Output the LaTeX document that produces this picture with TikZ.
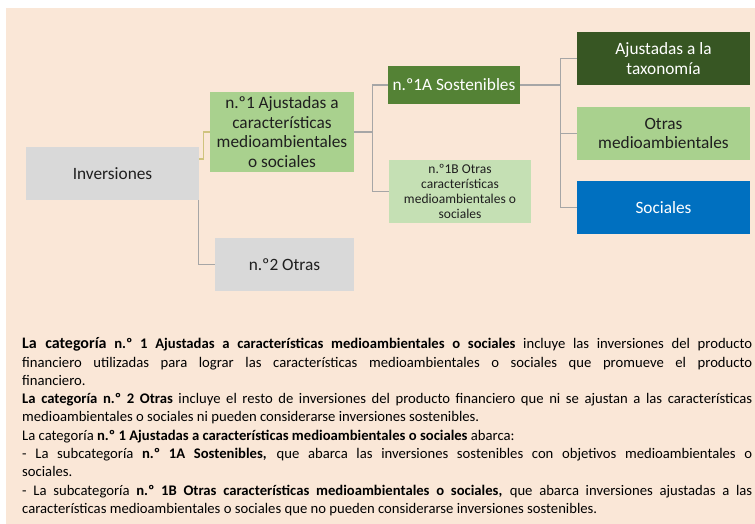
\documentclass[tikz,border=0pt]{standalone}
\usepackage{fontspec}
\setmainfont{Carlito}
\usetikzlibrary{calc}
\definecolor{bgpeach}{HTML}{FAE7D7}
\definecolor{boxgray}{HTML}{D9D9D9}
\definecolor{lgreen}{HTML}{A9D18E}
\definecolor{mgreen}{HTML}{548235}
\definecolor{pgreen}{HTML}{C5E0B4}
\definecolor{dgreen}{HTML}{375623}
\definecolor{sblue}{HTML}{0070C0}
\definecolor{linegray}{HTML}{A6A6A6}
\definecolor{lineyel}{HTML}{CFC37E}
\begin{document}
\begin{tikzpicture}[x=1pt,y=-1pt,
  box/.style={inner sep=1pt, align=center, font=\fontsize{17.3}{19.5}\selectfont, text=black!88},
  smallbox/.style={inner sep=1pt, align=center, font=\fontsize{13.5}{14.8}\selectfont, text=black!88},
  conn/.style={draw=linegray, line width=1.1pt},
  yconn/.style={draw=lineyel, line width=1.1pt}]
\useasboundingbox (0,0) rectangle (755,524);
\fill[bgpeach] (6,8) rectangle (755,524);

\node[box, fill=boxgray, minimum width=173pt, minimum height=53pt] (inv) at (112.5,173.5) {Inversiones};
\node[box, fill=lgreen, minimum width=144pt, minimum height=80pt] (n1) at (282,132) {n.º1 Ajustadas a\\características\\medioambientales\\o sociales};
\node[box, fill=boxgray, minimum width=139pt, minimum height=53pt] (n2) at (284.5,264.5) {n.º2 Otras};
\node[box, fill=mgreen, text=white, minimum width=132pt, minimum height=38pt] (n1a) at (454,85) {n.º1A Sostenibles};
\node[smallbox, fill=pgreen, minimum width=142pt, minimum height=63pt] (n1b) at (460,191.5) {n.º1B Otras\\características\\medioambientales o\\sociales};
\node[box, fill=dgreen, text=white, minimum width=173pt, minimum height=53pt] (tax) at (663.5,58.5) {Ajustadas a la\\taxonomía};
\node[box, fill=lgreen, minimum width=173pt, minimum height=53pt] (otr) at (663.5,133.5) {Otras\\medioambientales};
\node[box, fill=sblue, text=white, minimum width=173pt, minimum height=53pt] (soc) at (663.5,207.5) {Sociales};

\draw[yconn] ([yshift=14.5pt]inv.east) -- ++(4.5,0) |- (n1.west);
\draw[conn] ([xshift=-0.5pt]inv.south east) |- (n2.west);
\draw[conn] (n1.east) -- ++(18,0) coordinate (j1) |- (n1a.west);
\draw[conn] (j1) |- (n1b.west);
\draw[conn] (n1a.east) -- ++(40,0) coordinate (j2) |- (tax.west);
\draw[conn] (j2) |- (otr.west);
\draw[conn] (j2) |- (soc.west);

\node[anchor=north west, inner sep=0pt, text width=730pt, align=justify,
      font=\fontsize{14.67}{18.3}\selectfont, text=black] (txt) at (22,337.5)
{\parindent=0pt\parskip=0pt\hyphenpenalty=10000\tolerance=9999\emergencystretch=20pt
{\fontsize{16}{18.3}\selectfont\bfseries La categoría} \textbf{n.º 1 Ajustadas a características medioambientales o sociales} incluye las inversiones del producto\linebreak
financiero utilizadas para lograr las características medioambientales o sociales que promueve el producto\linebreak
financiero.\par
\textbf{La categoría n.º 2 Otras} incluye el resto de inversiones del producto financiero que ni se ajustan a las características\linebreak
medioambientales o sociales ni pueden considerarse inversiones sostenibles.\par
La categoría \textbf{n.º 1 Ajustadas a características medioambientales o sociales} abarca:\par
- La subcategoría \textbf{n.º 1A Sostenibles,} que abarca las inversiones sostenibles con objetivos medioambientales o\linebreak
sociales.\par
- La subcategoría \textbf{n.º 1B Otras características medioambientales o sociales,} que abarca inversiones ajustadas a las\linebreak
características medioambientales o sociales que no pueden considerarse inversiones sostenibles.\par};
\end{tikzpicture}
\end{document}
